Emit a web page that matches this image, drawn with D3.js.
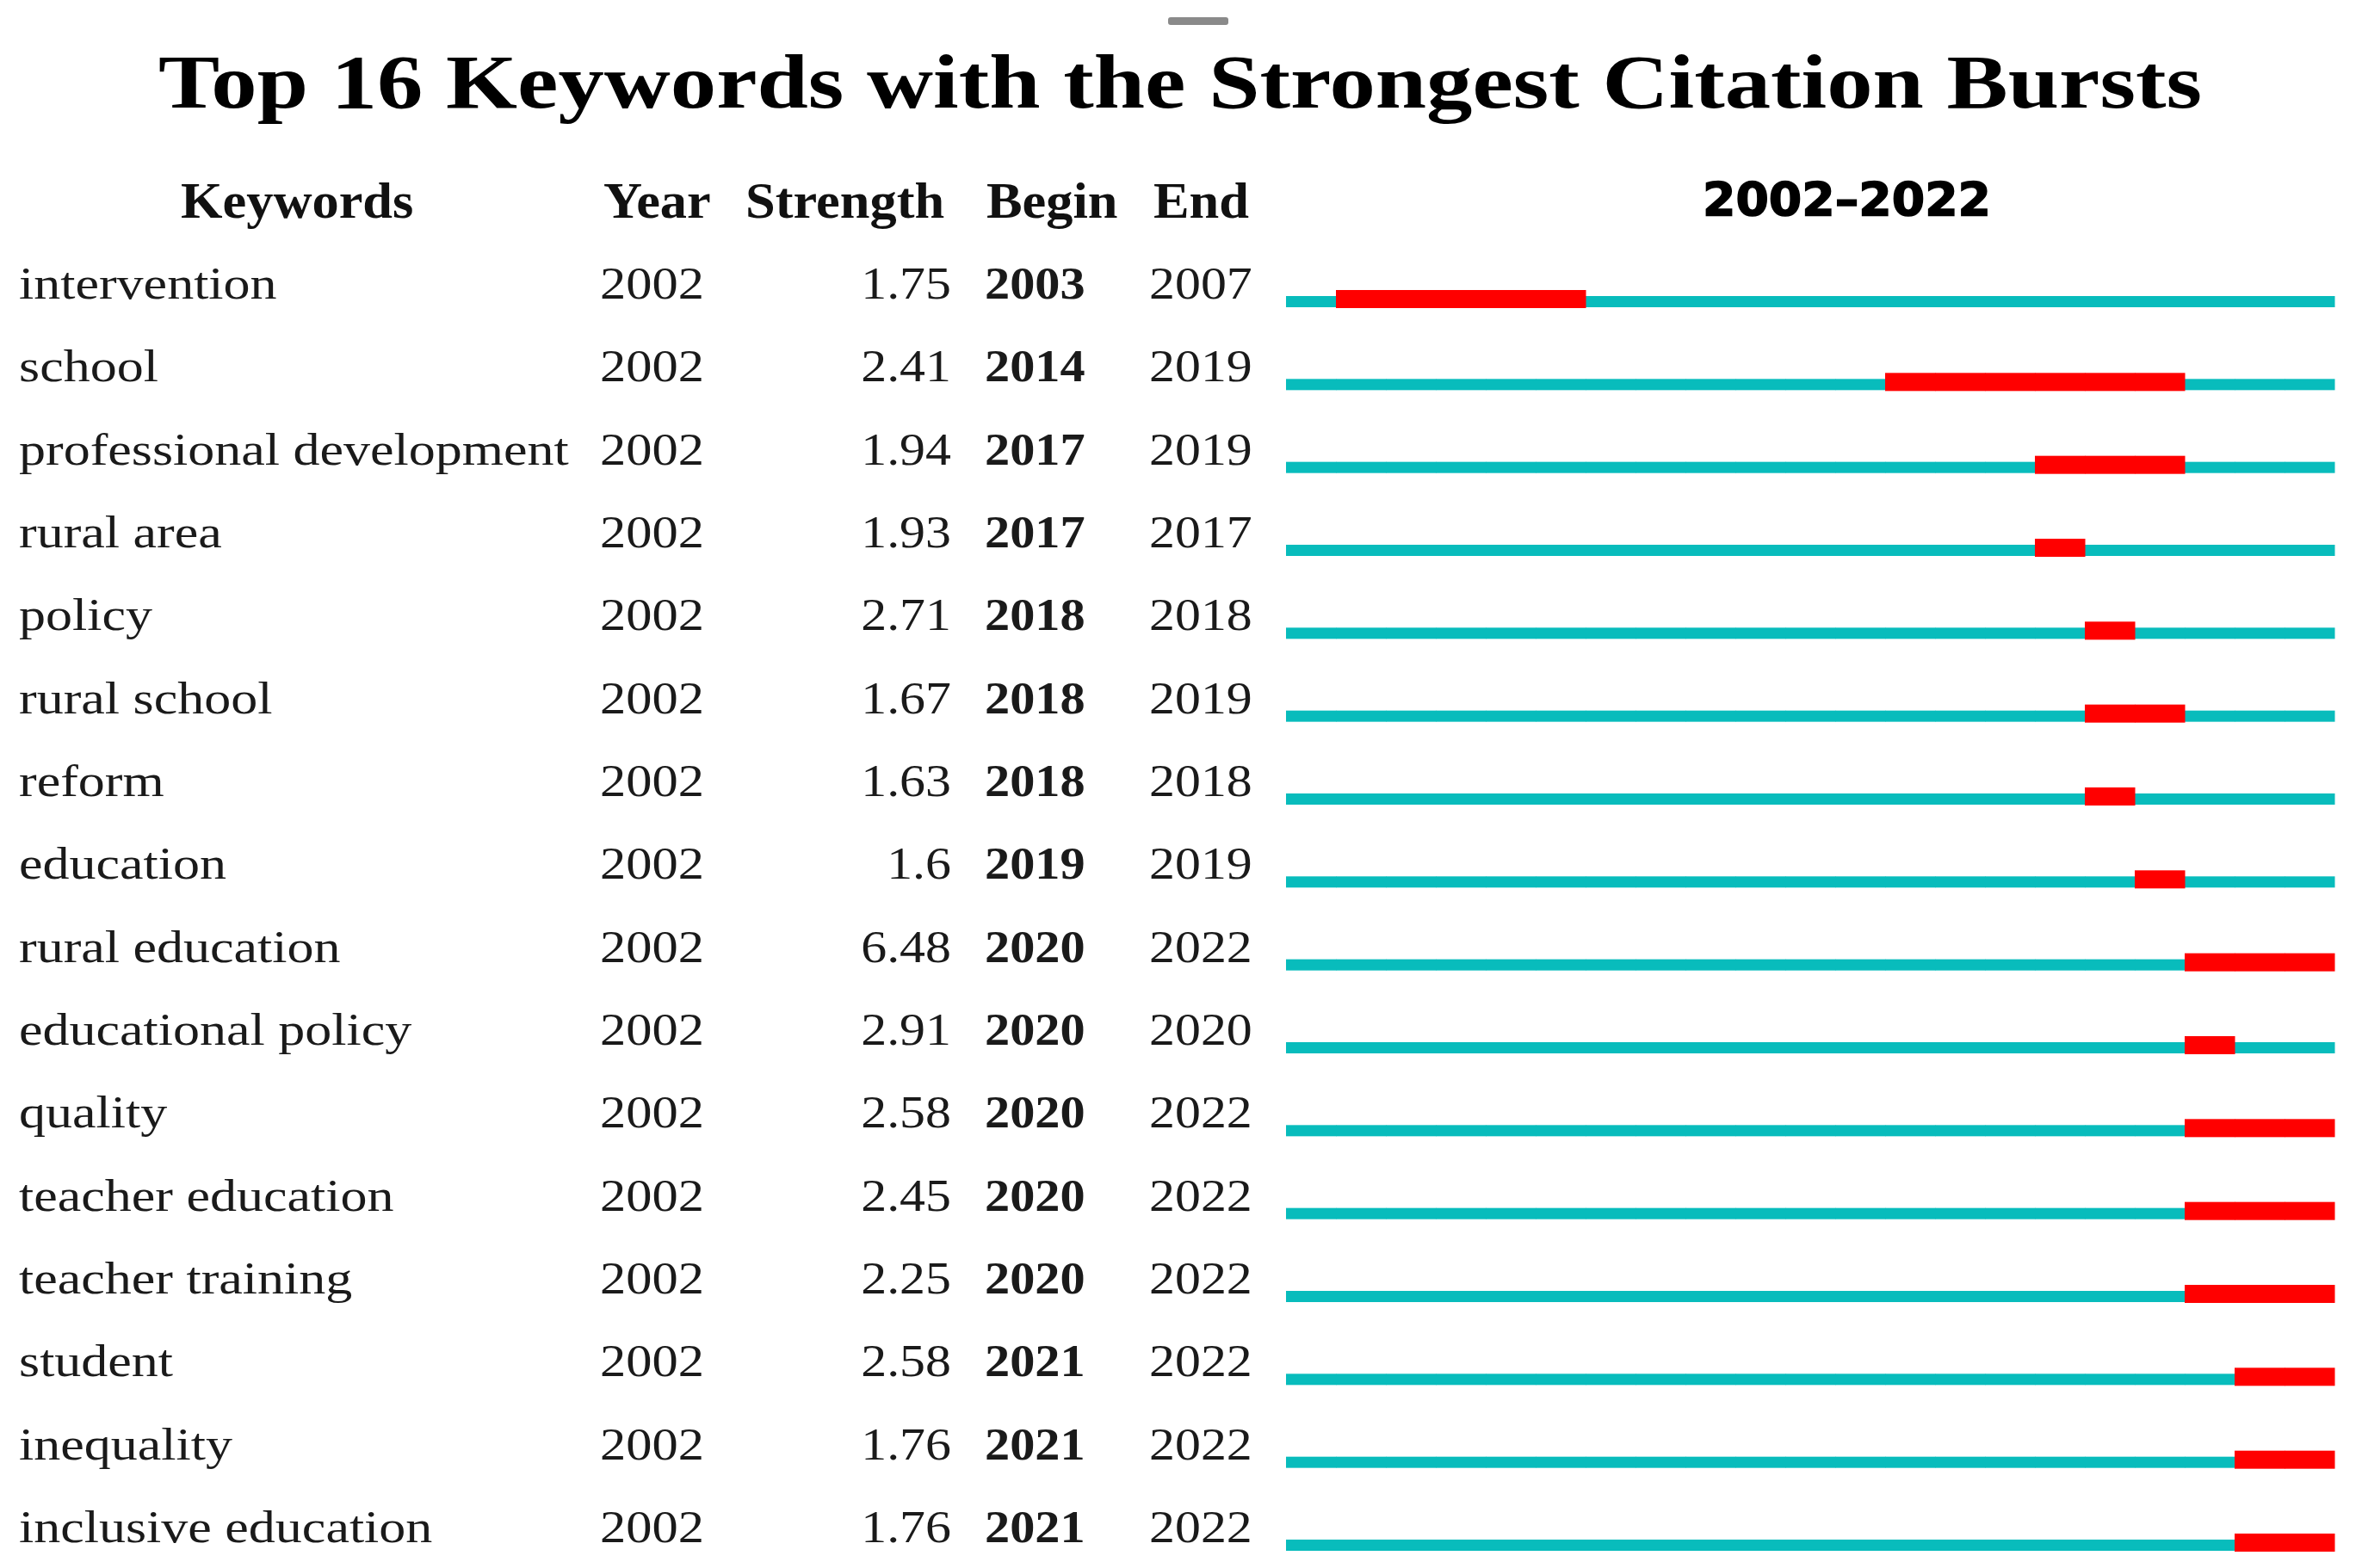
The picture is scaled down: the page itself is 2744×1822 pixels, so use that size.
<!DOCTYPE html>
<html><head><meta charset="utf-8">
<script src="https://cdn.jsdelivr.net/npm/d3@7"></script>
<style>html,body{margin:0;padding:0;background:#fff;}svg{display:block;}</style>
</head><body>
<script>
const keywords = ["intervention","school","professional development","rural area","policy","rural school","reform","education","rural education","educational policy","quality","teacher education","teacher training","student","inequality","inclusive education"];
const years = [2002,2002,2002,2002,2002,2002,2002,2002,2002,2002,2002,2002,2002,2002,2002,2002];
const strengths = ["1.75","2.41","1.94","1.93","2.71","1.67","1.63","1.6","6.48","2.91","2.58","2.45","2.25","2.58","1.76","1.76"];
const begins = [2003,2014,2017,2017,2018,2018,2018,2019,2020,2020,2020,2020,2020,2021,2021,2021];
const ends = [2007,2019,2019,2017,2018,2019,2018,2019,2022,2020,2022,2022,2022,2022,2022,2022];
const headers = ["Keywords","Year","Strength","Begin","End"];
const titleText = "Top 16 Keywords with the Strongest Citation Bursts";
const rangeStart = 2002, rangeEnd = 2022;

const W = 2744, H = 1822;
const svg = d3.select("body").append("svg").attr("width", W).attr("height", H);
svg.append("rect").attr("width", W).attr("height", H).attr("fill", "#fff");

svg.append("rect").attr("x", 1357).attr("y", 20).attr("width", 70).attr("height", 9).attr("fill", "#8a8a8a").attr("rx", 3);

svg.append("text").attr("x", 184).attr("y", 125)
  .attr("font-family", "Liberation Serif, Times New Roman, serif")
  .attr("font-weight", "bold").attr("font-size", 88).attr("fill", "#000")
  .attr("textLength", 2374).attr("lengthAdjust", "spacingAndGlyphs")
  .text(titleText);

const serif = "Liberation Serif, Times New Roman, serif";
const headerX = [210, 701, 866, 1146, 1340];
const headerY = 253;
svg.selectAll("text.hdr").data(headers).join("text").attr("class", "hdr")
  .attr("transform", (d, i) => `translate(${headerX[i]},${headerY}) scale(1.04,1)`)
  .attr("font-family", serif).attr("font-weight", "bold").attr("font-size", 60).attr("fill", "#111")
  .text(d => d);

svg.append("text").attr("x", 1978).attr("y", 250)
  .attr("font-family", "DejaVu Sans, sans-serif").attr("font-weight", "bold").attr("font-size", 54)
  .attr("textLength", 335).attr("lengthAdjust", "spacingAndGlyphs").attr("fill", "#000")
  .attr("stroke", "#000").attr("stroke-width", 1.5)
  .text(rangeStart + "\u2013" + rangeEnd);

const y = d3.scalePoint().domain(keywords).range([347, 1792]);
const x = d3.scaleLinear().domain([rangeStart, rangeEnd + 1]).range([1494, 2712]);
const allYears = d3.range(rangeStart, rangeEnd + 1);

const rows = keywords.map((k, i) => ({k, year: years[i], s: strengths[i], b: begins[i], e: ends[i]}));
const fs = 53;
const g = svg.append("g").attr("font-family", serif).attr("font-size", fs).attr("fill", "#1a1a1a");

function col(cls, xpos, anchor, weight, sx, acc) {
  g.selectAll("text." + cls).data(rows).join("text").attr("class", cls)
    .attr("transform", d => `translate(${xpos},${y(d.k)}) scale(${sx},1)`)
    .attr("text-anchor", anchor).attr("font-weight", weight)
    .text(acc);
}
col("kw", 22, "start", "normal", 1.17, d => d.k);
col("yr", 697, "start", "normal", 1.14, d => d.year);
col("st", 1105, "end", "normal", 1.13, d => d.s);
col("bg", 1144, "start", "bold", 1.1, d => d.b);
col("en", 1335, "start", "normal", 1.13, d => d.e);

const cells = [];
rows.forEach(r => allYears.forEach(yr => cells.push({k: r.k, yr, burst: yr >= r.b && yr <= r.e})));
const bars = svg.append("g");
bars.selectAll("rect.teal").data(cells.filter(c => !c.burst)).join("rect").attr("class", "teal")
  .attr("x", d => x(d.yr)).attr("width", d => x(d.yr + 1) - x(d.yr) + 0.5)
  .attr("y", d => y(d.k) - 3).attr("height", 13)
  .attr("fill", "#08bcbc");
bars.selectAll("rect.red").data(cells.filter(c => c.burst)).join("rect").attr("class", "red")
  .attr("x", d => x(d.yr)).attr("width", d => x(d.yr + 1) - x(d.yr) + 0.5)
  .attr("y", d => y(d.k) - 10).attr("height", 21)
  .attr("fill", "#ff0000");
</script>
</body></html>
